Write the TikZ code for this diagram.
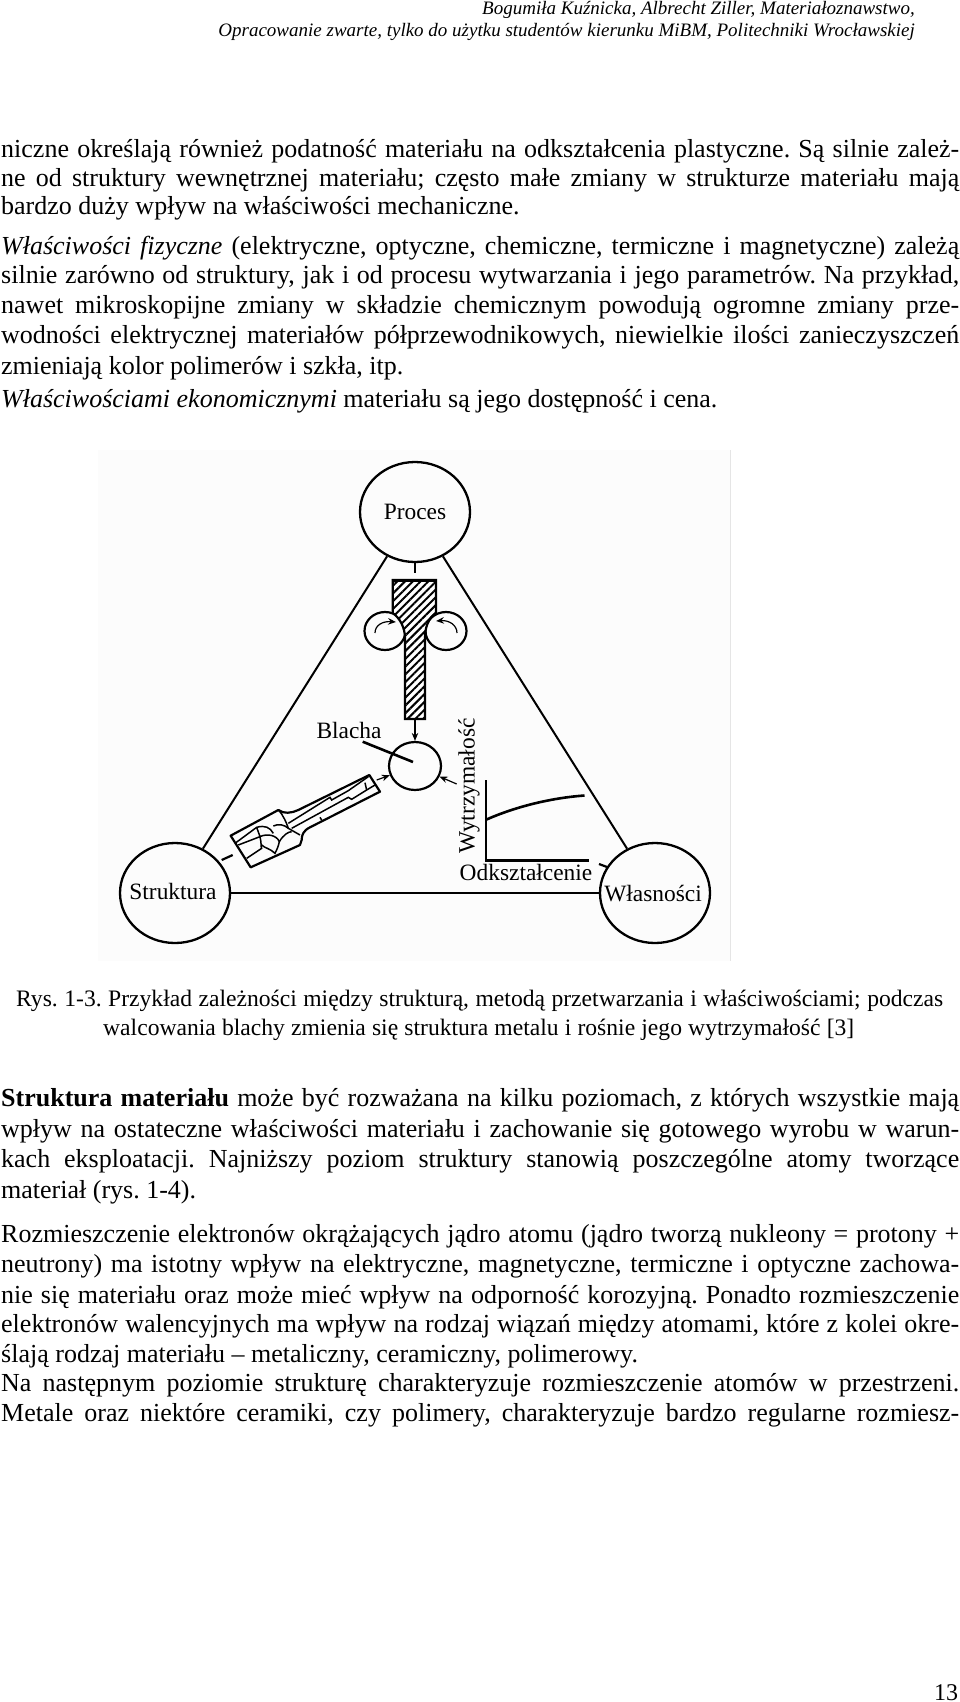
\documentclass[tikz,border=0pt]{standalone}
\usepackage{fontspec}
\setmainfont{Liberation Serif}
\frenchspacing
\usetikzlibrary{shapes.geometric,patterns.meta,arrows.meta}
\tikzset{
  wiersz/.style={anchor=base west,inner sep=0pt,yshift=-1pt,font=\fontsize{26}{30}\selectfont},
  podpis/.style={anchor=base west,inner sep=0pt,font=\fontsize{23.6}{28}\selectfont},
  naglowek/.style={anchor=base east,inner sep=0pt,font=\fontsize{19}{24}\selectfont\itshape},
  opis/.style={inner sep=0pt,font=\fontsize{23.4}{28}\selectfont},
  duze/.style={draw,ellipse,line width=2.3pt,minimum width=110pt,minimum height=100pt,inner sep=0pt},
  walec/.style={draw,ellipse,line width=2.2pt,minimum width=41pt,minimum height=38pt,inner sep=0pt},
  bok/.style={line width=2pt},
  gruba/.style={line width=2.2pt},
  ziarno/.style={line width=1.5pt},
  grot/.style={line width=1.2pt,-{Stealth[length=8pt,width=6.5pt]}}
}
\newcommand{\rozstaw}{\spaceskip=.25em plus .3em minus .12em\relax}
\newcommand{\wiersz}[3]{\node[wiersz] (#1) at (1,#2) {\rozstaw\hbox to 958pt{#3}};}
\newcommand{\krotki}[3]{\node[wiersz] (#1) at (1,#2) {#3};}
\begin{document}
\begin{tikzpicture}[x=1pt,y=-1pt]
\useasboundingbox (0,0) rectangle (960,1702);
% naglowek
\node[naglowek] (autorzy) at (915,15) {Bogumiła Kuźnicka, Albrecht Ziller, Materiałoznawstwo,};
\node[naglowek] (zakres) at (915,37) {Opracowanie zwarte, tylko do użytku studentów kierunku MiBM, Politechniki Wrocławskiej};
% tekst nad rysunkiem
\wiersz{a1}{156}{niczne określają również podatność materiału na odkształcenia plastyczne. Są silnie zależ-}
\wiersz{a2}{185}{ne od struktury wewnętrznej materiału; często małe zmiany w strukturze materiału mają}
\krotki{a3}{213}{bardzo duży wpływ na właściwości mechaniczne.}
\wiersz{b1}{253}{\textit{Właściwości fizyczne} (elektryczne, optyczne, chemiczne, termiczne i magnetyczne) zależą}
\wiersz{b2}{282}{silnie zarówno od struktury, jak i od procesu wytwarzania i jego parametrów. Na przykład,}
\wiersz{b3}{312}{nawet mikroskopijne zmiany w składzie chemicznym powodują ogromne zmiany prze-}
\wiersz{b4}{342}{wodności elektrycznej materiałów półprzewodnikowych, niewielkie ilości zanieczyszczeń}
\krotki{b5}{373}{zmieniają kolor polimerów i szkła, itp.}
\krotki{c1}{406}{\textit{Właściwościami ekonomicznymi} materiału są jego dostępność i cena.}
% tlo rysunku
\path[fill=black!1] (98,450) rectangle (730,961);
\draw[black!10,line width=0.6pt] (730,450) -- (730,961);
% trojkat
\node[duze] (proces) at (415,512) {};
\node[duze] (struktura) at (175,893) {};
\node[duze] (wlasnosci) at (655,893) {};
\node[opis] (procesT) at (proces) {Proces};
\node[opis] (strukturaT) at (173,891) {Struktura};
\node[opis] (wlasnosciT) at (653,894) {Własności};
\path[draw,bok] (proces) -- (struktura);
\path[draw,bok] (proces) -- (wlasnosci);
\path[draw,bok] (struktura) -- (wlasnosci);
% walcowanie
\node[walec] (walecL) at (385,631) {};
\node[walec] (walecP) at (446,631) {};
\path[draw,gruba,fill=white,postaction={pattern={Lines[angle=45,distance=5.5pt,line width=2pt]}}]
  (392.7,580) -- (436,580) -- (436,613) .. controls (428,618) and (425,628) .. (425,638)
  -- (425,719) -- (405,719) -- (405,638) .. controls (405,628) and (400,618) .. (392.7,613) -- cycle;
\draw[line width=3.5pt] (391.6,580.5) -- (437.1,580.5);
\coordinate (wlew) at (375,633);
\coordinate (wlewK) at (396,622);
\coordinate (wpra) at (457,633);
\coordinate (wpraK) at (436,621);
\draw[grot] (wlew) .. controls (375,625) and (383,621) .. (wlewK);
\draw[grot] (wpra) .. controls (457,625) and (449,620) .. (wpraK);
\coordinate (procesK) at (415,573);
\draw[gruba] (proces) -- (procesK);
% blacha
\node[walec,minimum width=52pt,minimum height=48pt] (blacha) at (415,766) {};
\coordinate (kesK) at (415,719);
\draw[grot] (kesK) -- (blacha);
\node[opis] (blachaT) at (349,730) {Blacha};
\coordinate (wskA) at (362.7,741.7);
\coordinate (wskB) at (413,762);
\draw[line width=2.6pt] (wskA) -- (wskB);
% struktura po walcowaniu
\begin{scope}[shift={(220,740)},x=0.3333pt,y=-0.3333pt]
\draw[line width=2.2pt,line join=round] (32,287) -- (175,210) .. controls (190,222) and (215,220) .. (235,210) -- (448,105) -- (480,155) -- (270,262) .. controls (250,272) and (245,285) .. (245,300) -- (240,315) -- (92,382) -- cycle;
\draw[ziarno] (205,250) -- (330,172) -- (335,180) -- (385,152) -- (445,110);
\draw[ziarno] (215,265) -- (385,172) -- (395,178) -- (440,150) -- (465,135);
\draw[ziarno] (175,210) .. controls (190,225) and (200,250) .. (205,265) -- (240,285);
\draw[ziarno] (300,232) -- (305,240);
\draw[ziarno] (440,150) -- (435,128);
\draw[ziarno] (45,310) -- (110,262) .. controls (135,255) and (150,262) .. (160,280);
\draw[ziarno] (160,258) .. controls (175,250) and (195,255) .. (205,265);
\draw[ziarno] (55,315) -- (120,290) .. controls (125,310) and (122,320) .. (125,325) -- (80,355);
\draw[ziarno] (110,262) -- (120,290) .. controls (140,280) and (170,285) .. (178,305) .. controls (175,320) and (170,330) .. (165,340) .. controls (150,325) and (135,325) .. (125,315);
\draw[ziarno] (178,305) .. controls (190,285) and (205,275) .. (215,275);
\end{scope}
\coordinate (strA) at (376.7,780);
\coordinate (strT) at (232.7,855);
\coordinate (strB) at (221.7,860);
\draw[grot] (strA) -- (blacha);
\draw[gruba] (strB) -- (strT);
% wykres
\coordinate (osY) at (485.6,780);
\coordinate (os0) at (485.6,860.5);
\coordinate (osX) at (588.7,860.5);
\draw[line width=2.2pt] (osY) -- (os0) -- (osX);
\draw[line width=2.6pt] (486.5,819.5) .. controls (515,807) and (550,798) .. (584.5,795.5);
\coordinate (wykA) at (456.7,784);
\draw[grot] (wykA) -- (blacha);
\coordinate (wlaA) at (599,864);
\coordinate (wlaB) at (607,867);
\draw[gruba] (wlaA) -- (wlaB);
\node[opis,rotate=90] (wytrz) at (469,786) {Wytrzymałość};
\node[opis] (odksz) at (526,872) {Odkształcenie};
% podpis
\node[podpis] (r1) at (16,1006) {\rozstaw\hbox to 927pt{Rys. 1-3. Przykład zależności między strukturą, metodą przetwarzania i właściwościami; podczas}};
\node[podpis] (r2) at (103,1035) {\rozstaw\hbox to 751pt{walcowania blachy zmienia się struktura metalu i rośnie jego wytrzymałość [3]}};
% tekst pod rysunkiem
\wiersz{d1}{1105}{\textbf{Struktura materiału} może być rozważana na kilku poziomach, z których wszystkie mają}
\wiersz{d2}{1136}{wpływ na ostateczne właściwości materiału i zachowanie się gotowego wyrobu w warun-}
\wiersz{d3}{1166}{kach eksploatacji. Najniższy poziom struktury stanowią poszczególne atomy tworzące}
\krotki{d4}{1197}{materiał (rys. 1-4).}
\wiersz{e1}{1241}{Rozmieszczenie elektronów okrążających jądro atomu (jądro tworzą nukleony = protony +}
\wiersz{e2}{1271}{neutrony) ma istotny wpływ na elektryczne, magnetyczne, termiczne i optyczne zachowa-}
\wiersz{e3}{1302}{nie się materiału oraz może mieć wpływ na odporność korozyjną. Ponadto rozmieszczenie}
\wiersz{e4}{1331}{elektronów walencyjnych ma wpływ na rodzaj wiązań między atomami, które z kolei okre-}
\krotki{e5}{1361}{ślają rodzaj materiału – metaliczny, ceramiczny, polimerowy.}
\wiersz{f1}{1390}{Na następnym poziomie strukturę charakteryzuje rozmieszczenie atomów w przestrzeni.}
\wiersz{f2}{1420}{Metale oraz niektóre ceramiki, czy polimery, charakteryzuje bardzo regularne rozmiesz-}
\node[wiersz,font=\fontsize{24}{28}\selectfont] (numer) at (934,1699) {13};
\end{tikzpicture}
\end{document}
